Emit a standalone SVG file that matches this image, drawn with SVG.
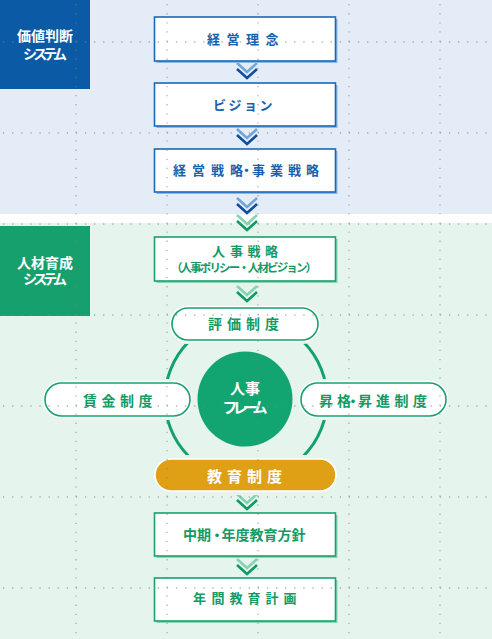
<svg xmlns="http://www.w3.org/2000/svg" width="492" height="639" viewBox="0 0 492 639">
<defs>
<style>
text{font-family:"Noto Sans CJK JP","Noto Sans CJK SC",sans-serif;font-weight:700}
.bt{fill:#1561ae;font-size:13px}
.gt{fill:#139a65;font-size:13px}
.wt{fill:#ffffff;font-size:14px}
.bshadow{fill:#8cb8e3}
.bbox{fill:#ffffff;stroke:#1b68b5;stroke-width:1.6}
.gshadow{fill:#8fd5b5}
.gbox{fill:#ffffff;stroke:#18a26c;stroke-width:1.6}
.halo{fill:none;stroke:#e5f5ee;stroke-width:8}
.whalo{fill:#ffffff;stroke:#ffffff;stroke-width:4.5}
.pill{fill:#ffffff;stroke:#18a26c;stroke-width:1.6}
.chev{fill:none;stroke-width:2.6}
.bl{stroke:#72a6da}
.bd{stroke:#0d4f9e}
.gl{stroke:#86d3b0}
.gd{stroke:#0f9a62}
.grid line{stroke:#808080;stroke-opacity:0.6;stroke-width:1.3;stroke-dasharray:1.3 7.8}
</style>
</defs>
<rect x="0" y="0" width="492" height="214" fill="#e4edf7"/>
<rect x="0" y="214" width="492" height="9" fill="#ffffff"/>
<rect x="0" y="223" width="492" height="416" fill="#e5f5ee"/>

<g id="label-value">
<rect x="0" y="0" width="90" height="89" fill="#0b5aa5"/>
<text class="wt" x="45" y="41" text-anchor="middle">価値判断</text>
<text class="wt" x="45" y="59" text-anchor="middle" textLength="44" lengthAdjust="spacing">システム</text>
</g>
<g id="label-hr">
<rect x="0" y="226" width="90" height="90" fill="#16a06e"/>
<text class="wt" x="45" y="267.5" text-anchor="middle">人材育成</text>
<text class="wt" x="45" y="284" text-anchor="middle" textLength="44" lengthAdjust="spacing">システム</text>
</g>

<g id="connectors">
<polyline class="chev bl" points="237,63 247,72 257,63"/>
<polyline class="chev bd" points="237,69 247,78 257,69"/>
<polyline class="chev bl" points="237,129 247,138 257,129"/>
<polyline class="chev bd" points="237,135 247,144 257,135"/>
<polyline class="chev bl" points="237,198 247,207 257,198"/>
<polyline class="chev bd" points="237,204 247,213 257,204"/>
<polyline class="chev gl" points="237,215 247,224 257,215"/>
<polyline class="chev gd" points="237,221 247,230 257,221"/>
<polyline class="chev gl" points="237,286 247,295 257,286"/>
<polyline class="chev gd" points="237,292 247,301 257,292"/>
<polyline class="chev gl" points="237,494 247,503 257,494"/>
<polyline class="chev gd" points="237,500 247,509 257,500"/>
<polyline class="chev gl" points="237,559 247,568 257,559"/>
<polyline class="chev gd" points="237,565 247,574 257,565"/>
<circle cx="246" cy="399" r="81" fill="none" stroke="#12a06c" stroke-width="3"/>
</g>

<g id="n-keiei-rinen">
<rect class="bshadow" x="156.5" y="19" width="181" height="44"/>
<rect class="bbox" x="154.5" y="17" width="181" height="44"/>
<text class="bt" x="207 226.5 246 265.5" y="44">経営理念</text>
</g>
<g id="n-vision">
<rect class="bshadow" x="156.5" y="85" width="181" height="43"/>
<rect class="bbox" x="154.5" y="83" width="181" height="43"/>
<text class="bt" x="213 228.5 244 259.5" y="110">ビジョン</text>
</g>
<g id="n-senryaku">
<rect class="bshadow" x="156.5" y="151" width="181" height="43"/>
<rect class="bbox" x="154.5" y="149" width="181" height="43"/>
<text class="bt" x="173 192 211 230 240 252 270 288 306" y="175">経営戦略・事業戦略</text>
</g>
<g id="n-jinji-senryaku">
<rect class="gshadow" x="156.5" y="239" width="181" height="44"/>
<rect class="gbox" x="154.5" y="237" width="181" height="44"/>
<text class="gt" x="212 230 247.5 265" y="256">人事戦略</text>
<text class="gt" x="244" y="271.5" text-anchor="middle" style="font-size:11.5px" textLength="146" lengthAdjust="spacing">（人事ポリシー・人材ビジョン）</text>
</g>

<g id="n-frame">
<circle cx="245" cy="399" r="47.5" fill="#13a571"/>
<text class="wt" x="245" y="394" text-anchor="middle" style="font-size:15px">人事</text>
<text class="wt" x="245" y="413" text-anchor="middle" style="font-size:15px" textLength="45" lengthAdjust="spacing">フレーム</text>
</g>

<g id="n-hyoka">
<rect class="halo" x="172" y="308" width="146" height="32" rx="16"/>
<rect class="whalo" x="172" y="308" width="146" height="32" rx="16"/>
<rect class="pill" x="172" y="308" width="146" height="32" rx="16"/>
<text class="gt" x="208 227 246 265" y="329" style="font-size:14px">評価制度</text>
</g>
<g id="n-chingin">
<rect class="halo" x="45" y="383" width="145" height="33" rx="16.5"/>
<rect class="whalo" x="45" y="383" width="145" height="33" rx="16.5"/>
<rect class="pill" x="45" y="383" width="145" height="33" rx="16.5"/>
<text class="gt" x="83 101.5 120 138.5" y="405.5" style="font-size:14px">賃金制度</text>
</g>
<g id="n-shokaku">
<rect class="halo" x="301" y="383" width="145" height="33" rx="16.5"/>
<rect class="whalo" x="301" y="383" width="145" height="33" rx="16.5"/>
<rect class="pill" x="301" y="383" width="145" height="33" rx="16.5"/>
<text class="gt" x="319 337 346 358 376 394.5 413" y="405.5" style="font-size:14px">昇格・昇進制度</text>
</g>
<g id="n-kyoiku">
<rect class="halo" x="155" y="459" width="181" height="32" rx="16"/>
<rect x="155" y="459" width="181" height="32" rx="16" fill="#dfa016" stroke="#ffffff" stroke-width="1.6"/>
<text class="wt" x="207 227 247 267" y="482" style="font-size:15px">教育制度</text>
</g>

<g id="n-hoshin">
<rect class="gshadow" x="156.5" y="515" width="181" height="43"/>
<rect class="gbox" x="154.5" y="513" width="181" height="43"/>
<text class="gt" x="183 197 210 221.5 235.5 249.5 263.5 277.5 291.5" y="540" style="font-size:14px">中期・年度教育方針</text>
</g>
<g id="n-keikaku">
<rect class="gshadow" x="156.5" y="580" width="181" height="43"/>
<rect class="gbox" x="154.5" y="578" width="181" height="43"/>
<text class="gt" x="193 211.5 229.5 247.5 265.5 283.5" y="603">年間教育計画</text>
</g>

<g class="grid">
<line x1="76" y1="4" x2="76" y2="639"/>
<line x1="167" y1="4" x2="167" y2="639"/>
<line x1="258" y1="4" x2="258" y2="639"/>
<line x1="349" y1="4" x2="349" y2="639"/>
<line x1="440" y1="4" x2="440" y2="639"/>
<line x1="3" y1="42" x2="492" y2="42"/>
<line x1="3" y1="133" x2="492" y2="133"/>
<line x1="3" y1="224" x2="492" y2="224"/>
<line x1="3" y1="315" x2="492" y2="315"/>
<line x1="3" y1="406" x2="492" y2="406"/>
<line x1="3" y1="497" x2="492" y2="497"/>
<line x1="3" y1="588" x2="492" y2="588"/>
</g>
</svg>
